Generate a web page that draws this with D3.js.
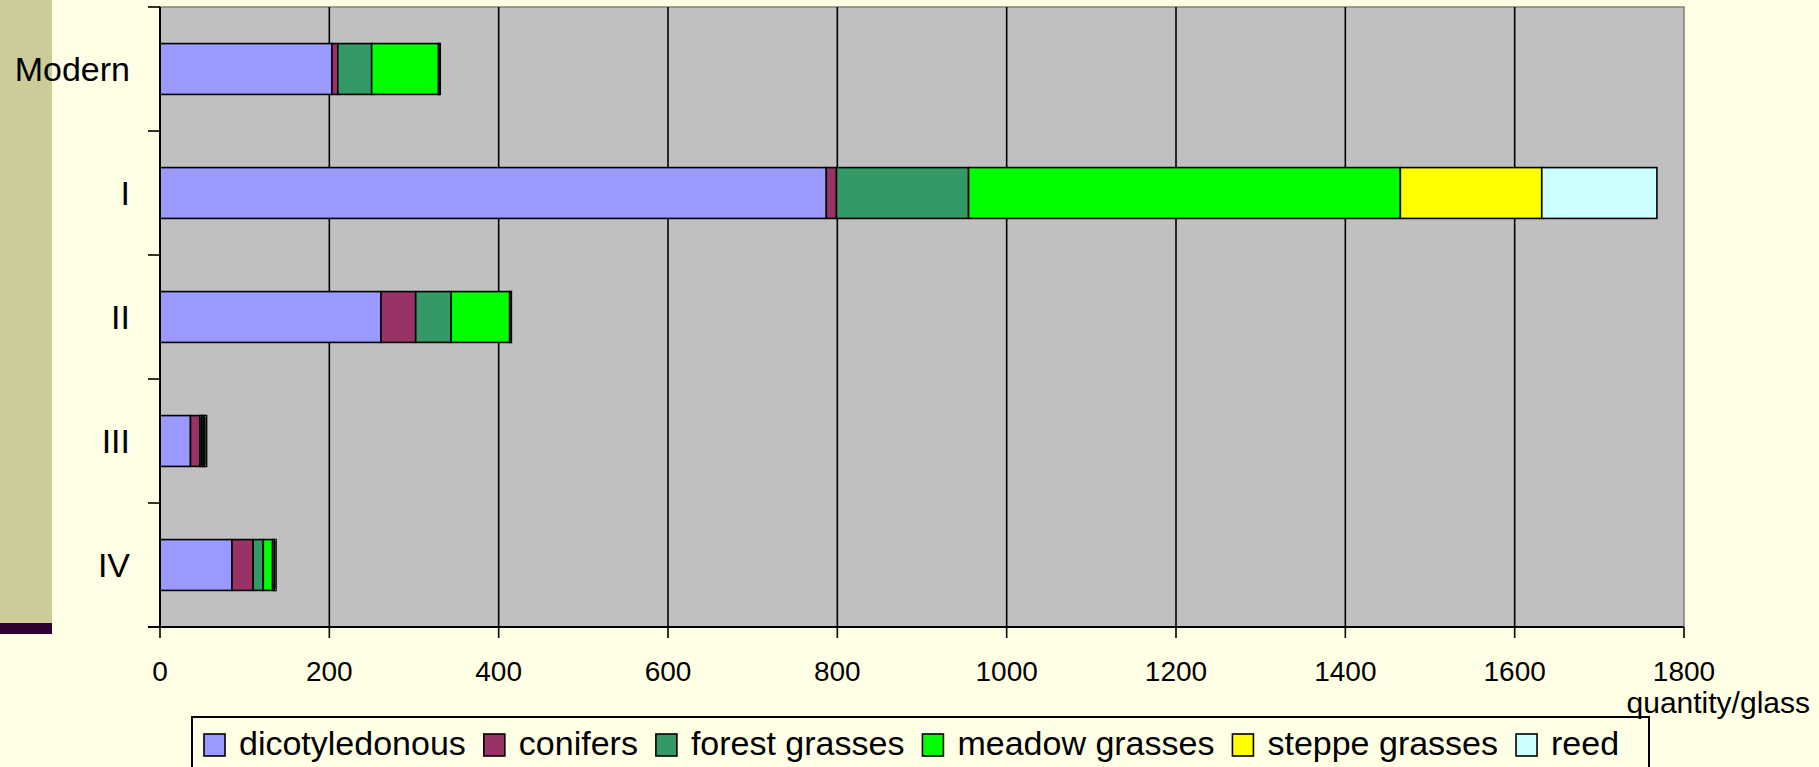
<!DOCTYPE html>
<html>
<head>
<meta charset="utf-8">
<script src="https://cdn.jsdelivr.net/npm/d3@7"></script>
<style>
  html, body { margin: 0; padding: 0; background: #FFFFE6; overflow: hidden; }
  svg { display: block; }
  text { font-family: "Liberation Sans", Arial, sans-serif; fill: #000; }
</style>
</head>
<body>
<svg id="chart" width="1819" height="767"></svg>
<script>
// ---- data ----
const categories = ["Modern", "I", "II", "III", "IV"];
const seriesNames = ["dicotyledonous", "conifers", "forest grasses", "meadow grasses", "steppe grasses", "reed"];
const dicotyledonous = [203, 787, 261, 36, 85];
const conifers       = [7, 12, 41, 11, 25];
const forestGrasses  = [40, 156, 42, 2, 12];
const meadowGrasses  = [79, 510, 69, 2, 11];
const steppeGrasses  = [1, 167, 1, 2, 2];
const reed           = [1, 136, 1, 2, 2];
const xTicks = [0, 200, 400, 600, 800, 1000, 1200, 1400, 1600, 1800];
const axisTitle = "quantity/glass";
const colors = ["#9999FF", "#993366", "#339966", "#00FF00", "#FFFF00", "#CCFFFF"];

const seriesValues = [dicotyledonous, conifers, forestGrasses, meadowGrasses, steppeGrasses, reed];
const table = categories.map((c, i) => {
  const row = { cat: c };
  seriesNames.forEach((s, j) => row[s] = seriesValues[j][i]);
  return row;
});

// ---- layout ----
const svg = d3.select("#chart");
const plot = { left: 160, right: 1684, top: 7, bottom: 627 };

// decorative slide elements
svg.append("rect").attr("x", 0).attr("y", 0).attr("width", 52).attr("height", 623).attr("fill", "#CCCC99");
svg.append("rect").attr("x", 0).attr("y", 623).attr("width", 52).attr("height", 11).attr("fill", "#330033");

const x = d3.scaleLinear().domain([0, 1800]).range([plot.left, plot.right]);
const y = d3.scaleBand().domain(categories).range([plot.top, plot.bottom]).paddingInner(0.59).paddingOuter(0.295);

// plot area
svg.append("rect")
  .attr("x", plot.left).attr("y", plot.top)
  .attr("width", plot.right - plot.left).attr("height", plot.bottom - plot.top)
  .attr("fill", "#C0C0C0").attr("stroke", "#808080").attr("stroke-width", 1.5);

// gridlines
svg.append("g").selectAll("line").data(xTicks.filter(t => t > 0 && t < 1800)).join("line")
  .attr("x1", d => x(d)).attr("x2", d => x(d))
  .attr("y1", plot.top).attr("y2", plot.bottom)
  .attr("stroke", "#000").attr("stroke-width", 1.6);

// stacked bars
const stacked = d3.stack().keys(seriesNames)(table);
svg.append("g").selectAll("g").data(stacked).join("g")
  .attr("fill", (d, i) => colors[i])
  .selectAll("rect").data(d => d).join("rect")
  .attr("x", d => x(d[0]))
  .attr("width", d => x(d[1]) - x(d[0]))
  .attr("y", d => y(d.data.cat))
  .attr("height", y.bandwidth())
  .attr("stroke", "#000").attr("stroke-width", 1.6);

// y axis
const step = y.step();
const yTickPos = d3.range(categories.length + 1).map(i => plot.top + i * step);
svg.append("line").attr("x1", plot.left).attr("x2", plot.left)
  .attr("y1", plot.top).attr("y2", plot.bottom).attr("stroke", "#000").attr("stroke-width", 2);
svg.append("g").selectAll("line").data(yTickPos).join("line")
  .attr("x1", plot.left - 12).attr("x2", plot.left)
  .attr("y1", d => d).attr("y2", d => d)
  .attr("stroke", "#000").attr("stroke-width", 1.6);
svg.append("g").selectAll("text").data(categories).join("text")
  .attr("x", 130)
  .attr("y", d => y(d) + y.bandwidth() / 2 + 12)
  .attr("text-anchor", "end")
  .style("font-size", "34px")
  .text(d => d);

// x axis
svg.append("line").attr("x1", plot.left - 12).attr("x2", plot.right)
  .attr("y1", plot.bottom).attr("y2", plot.bottom).attr("stroke", "#000").attr("stroke-width", 2);
svg.append("g").selectAll("line").data(xTicks).join("line")
  .attr("x1", d => x(d)).attr("x2", d => x(d))
  .attr("y1", plot.bottom).attr("y2", plot.bottom + 11)
  .attr("stroke", "#000").attr("stroke-width", 1.6);
svg.append("g").selectAll("text").data(xTicks).join("text")
  .attr("x", d => x(d)).attr("y", 681)
  .attr("text-anchor", "middle")
  .style("font-size", "28px")
  .text(d => d);
svg.append("text").attr("x", 1810).attr("y", 713)
  .attr("text-anchor", "end").style("font-size", "30px").text(axisTitle);

// legend
const lg = svg.append("g");
lg.append("rect").attr("x", 192).attr("y", 717)
  .attr("width", 1649 - 192).attr("height", 80)
  .attr("fill", "none").attr("stroke", "#000").attr("stroke-width", 2);
let cx = 204;
seriesNames.forEach((s, i) => {
  lg.append("rect").attr("x", cx).attr("y", 734).attr("width", 21).attr("height", 22)
    .attr("fill", colors[i]).attr("stroke", "#000").attr("stroke-width", 1.6);
  const t = lg.append("text").attr("x", cx + 35).attr("y", 755)
    .style("font-size", "34px").text(s);
  cx = cx + 35 + t.node().getComputedTextLength() + 18;
});
</script>
</body>
</html>
